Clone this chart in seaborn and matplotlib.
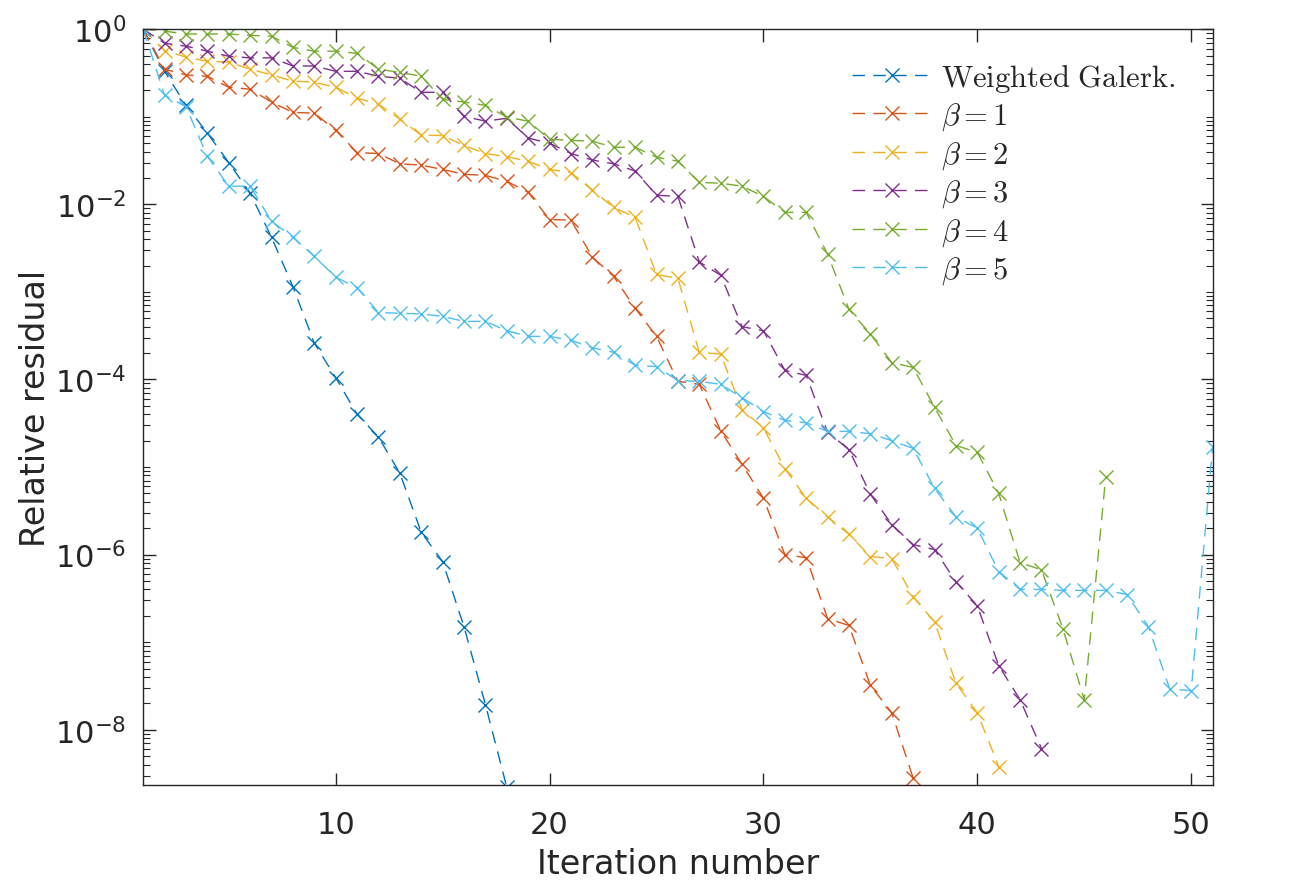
import numpy as np
import pandas as pd
import matplotlib
matplotlib.use("Agg")
import matplotlib.pyplot as plt
import matplotlib.ticker as mticker
from matplotlib.font_manager import FontProperties
import seaborn as sns

# residual histories, iteration starts at 1
galerkin = [1, 0.33, 0.135, 0.065, 0.03, 0.0134, 0.0042, 0.00115, 2.6e-4, 1.05e-4,
            4e-5, 2.2e-5, 8.5e-6, 1.8e-6, 8.3e-7, 1.5e-7, 1.94e-8, 2.2e-9]
beta1 = [1, 0.35, 0.30, 0.29, 0.217, 0.206, 0.147, 0.112, 0.11, 0.070,
         0.039, 0.038, 0.029, 0.028, 0.025, 0.022, 0.0214, 0.0183, 0.0137, 6.7e-3,
         6.6e-3, 2.5e-3, 1.5e-3, 6.5e-4, 3.1e-4, 9.5e-5, 8.8e-5, 2.6e-5, 1.07e-5, 4.4e-6,
         1.0e-6, 9.2e-7, 1.86e-7, 1.55e-7, 3.2e-8, 1.56e-8, 2.8e-9]
beta2 = [1, 0.57, 0.48, 0.43, 0.42, 0.35, 0.30, 0.255, 0.248, 0.217,
         0.163, 0.139, 0.094, 0.0615, 0.061, 0.047, 0.038, 0.035, 0.031, 0.025,
         0.023, 0.0145, 0.0092, 0.0071, 1.58e-3, 1.43e-3, 2.04e-4, 1.95e-4, 4.5e-5, 2.8e-5,
         9.6e-6, 4.4e-6, 2.7e-6, 1.7e-6, 9.5e-7, 9.0e-7, 3.3e-7, 1.7e-7, 3.4e-8, 1.56e-8,
         3.8e-9]
beta3 = [1, 0.69, 0.64, 0.56, 0.49, 0.47, 0.47, 0.38, 0.38, 0.33,
         0.33, 0.29, 0.275, 0.19, 0.19, 0.101, 0.089, 0.096, 0.057, 0.0498,
         0.038, 0.032, 0.029, 0.024, 0.0127, 0.0123, 2.2e-3, 1.55e-3, 4.0e-4, 3.6e-4,
         1.27e-4, 1.11e-4, 2.5e-5, 1.58e-5, 4.9e-6, 2.2e-6, 1.3e-6, 1.14e-6, 4.9e-7, 2.6e-7,
         5.4e-8, 2.2e-8, 6.1e-9]
beta4 = [1, 0.95, 0.88, 0.88, 0.88, 0.85, 0.83, 0.62, 0.56, 0.56,
         0.53, 0.35, 0.32, 0.29, 0.158, 0.147, 0.135, 0.099, 0.089, 0.0553,
         0.0538, 0.0525, 0.0448, 0.0448, 0.0345, 0.031, 0.0178, 0.0174, 0.0161, 0.0123,
         8.1e-3, 8.1e-3, 2.7e-3, 6.3e-4, 3.3e-4, 1.56e-4, 1.37e-4, 4.8e-5, 1.76e-5, 1.47e-5,
         5.0e-6, 8.1e-7, 6.7e-7, 1.43e-7, 2.2e-8, 7.6e-6]
beta5 = [1, 0.176, 0.13, 0.0354, 0.0161, 0.0161, 6.4e-3, 4.2e-3, 2.55e-3, 1.47e-3,
         1.12e-3, 5.8e-4, 5.7e-4, 5.6e-4, 5.25e-4, 4.6e-4, 4.6e-4, 3.6e-4, 3.1e-4, 3.1e-4,
         2.8e-4, 2.3e-4, 2.04e-4, 1.45e-4, 1.4e-4, 9.7e-5, 9.5e-5, 8.8e-5, 6.2e-5, 4.3e-5,
         3.4e-5, 3.2e-5, 2.55e-5, 2.55e-5, 2.4e-5, 2.0e-5, 1.63e-5, 5.7e-6, 2.7e-6, 2.0e-6,
         6.4e-7, 4.0e-7, 4.0e-7, 3.9e-7, 3.9e-7, 3.9e-7, 3.5e-7, 1.5e-7, 2.9e-8, 2.8e-8,
         1.7e-5]

labels = [r"$\mathrm{Weighted\ Galerk.}$", r"$\beta = 1$", r"$\beta = 2$",
          r"$\beta = 3$", r"$\beta = 4$", r"$\beta = 5$"]
series = [galerkin, beta1, beta2, beta3, beta4, beta5]
colors = ["#0072bd", "#d95319", "#edb120", "#7e2f8e", "#77ac30", "#4dbeee"]

sns.set_style("ticks")
plt.rcParams["font.family"] = ["DejaVu Sans"]

fig = plt.figure(figsize=(12.9, 8.87), dpi=100)
ax = fig.add_axes([0.111, 0.114, 0.829, 0.852])

for vals, lab, col in zip(series, labels, colors):
    df = pd.DataFrame({"iter": np.arange(1, len(vals) + 1), "res": vals})
    sns.lineplot(data=df, x="iter", y="res", ax=ax, color=col, label=lab,
                 linestyle=(0, (9, 6)), linewidth=1.0,
                 marker="x", markersize=10, mew=1.0, mec=col)

ax.set_yscale("log")
ax.set_xlim(1, 51)
ax.set_ylim(10 ** -8.63, 1)
ax.xaxis.set_major_locator(mticker.FixedLocator([10, 20, 30, 40, 50]))
ax.yaxis.set_major_locator(mticker.FixedLocator([1e-8, 1e-6, 1e-4, 1e-2, 1]))
ax.yaxis.set_minor_locator(mticker.LogLocator(base=10, subs=np.arange(1, 10), numticks=30))
ax.yaxis.set_major_formatter(mticker.LogFormatterSciNotation())
ax.yaxis.set_minor_formatter(mticker.NullFormatter())

for side in ["top", "right", "left", "bottom"]:
    ax.spines[side].set_visible(True)
    ax.spines[side].set_color("#262626")
    ax.spines[side].set_linewidth(1.0)
ax.tick_params(which="both", direction="in", top=True, right=True, colors="#262626",
               labelcolor="#262626")
ax.tick_params(which="major", length=9, width=1.0, labelsize=22, pad=12)
ax.tick_params(axis="x", which="major", pad=18)
ax.tick_params(which="minor", length=5, width=0.8)

ax.set_xlabel("Iteration number", fontsize=24, color="#262626", labelpad=6)
ax.set_ylabel("Relative residual", fontsize=24, color="#262626", labelpad=2)

leg_font = FontProperties(family="DejaVu Serif", math_fontfamily="cm", size=22)
ax.legend(loc="upper right", prop=leg_font, frameon=False, handlelength=2.6,
          labelspacing=0.2, handletextpad=0.3, borderaxespad=0.3,
          bbox_to_anchor=(0.985, 0.985))

fig.savefig("out.png", dpi=100)
